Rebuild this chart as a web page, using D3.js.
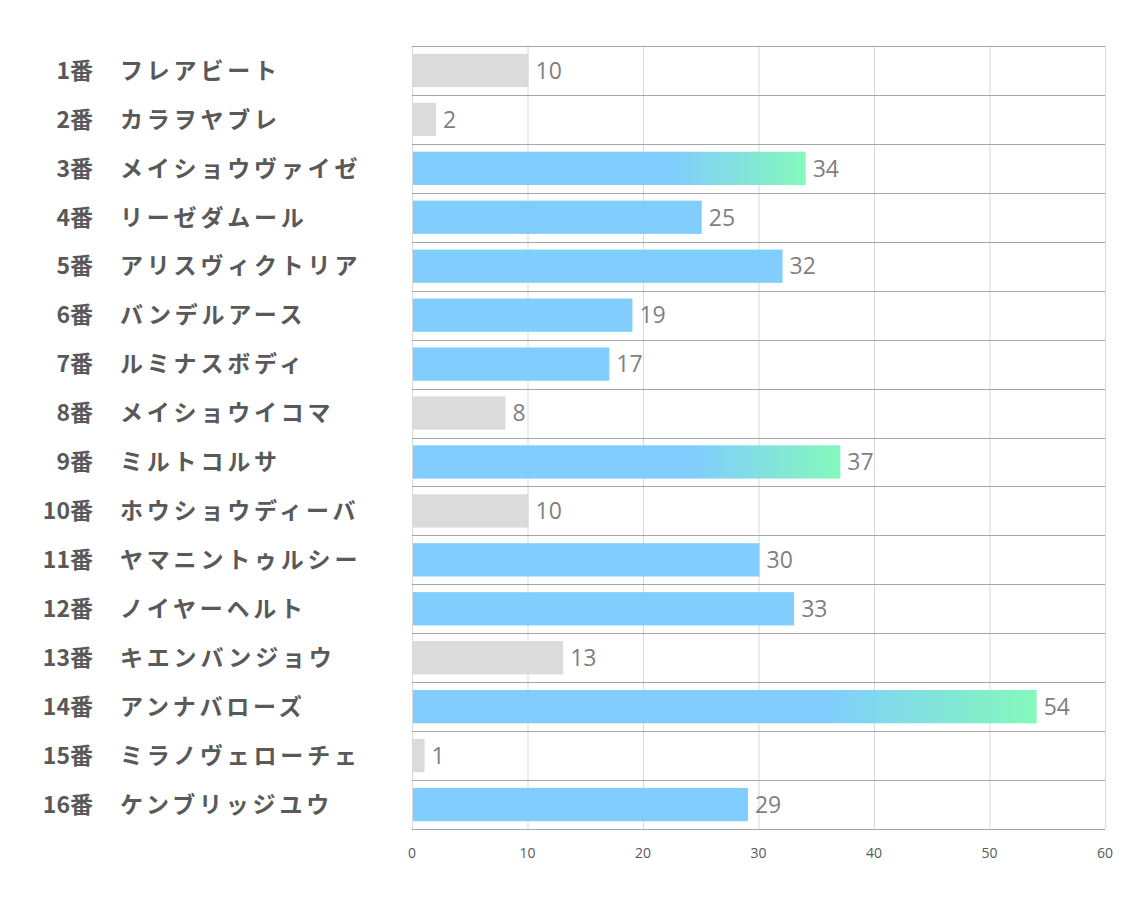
<!DOCTYPE html>
<html>
<head>
<meta charset="utf-8">
<script src="https://cdn.jsdelivr.net/npm/d3@7"></script>
<style>
  body { margin: 0; background: #fff; }
  svg { display: block; }
</style>
</head>
<body>
<div id="chart"></div>
<script>
// horse numbers, names and values, top to bottom
var numbers = ["1番","2番","3番","4番","5番","6番","7番","8番","9番","10番","11番","12番","13番","14番","15番","16番"];
var names = ["フレアビート","カラヲヤブレ","メイショウヴァイゼ","リーゼダムール","アリスヴィクトリア","バンデルアース","ルミナスボディ","メイショウイコマ","ミルトコルサ","ホウショウディーバ","ヤマニントゥルシー","ノイヤーヘルト","キエンバンジョウ","アンナバローズ","ミラノヴェローチェ","ケンブリッジユウ"];
var values = [10, 2, 34, 25, 32, 19, 17, 8, 37, 10, 30, 33, 13, 54, 1, 29];
// bar style group: g = gray, b = blue, t = blue->green gradient
var kinds = ["g","g","t","b","b","b","b","g","t","g","b","b","g","t","g","b"];
var ticks = [0, 10, 20, 30, 40, 50, 60];

var width = 1134, height = 907;
var plotLeft = 412, plotRight = 1105, plotTop = 46, plotBottom = 829;

var svg = d3.select("#chart").append("svg")
        .attr("width", width)
        .attr("height", height);

var defs = svg.append("defs");
var grad = defs.append("linearGradient")
        .attr("id", "topGrad")
        .attr("x1", "0").attr("x2", "1").attr("y1", "0").attr("y2", "0");
grad.append("stop").attr("offset", "0").attr("stop-color", "#7acafd");
grad.append("stop").attr("offset", "0.66").attr("stop-color", "#7acafd");
grad.append("stop").attr("offset", "1").attr("stop-color", "#7ef8b8");

var x = d3.scaleLinear()
        .domain([0, 60])
        .range([plotLeft, plotRight]);

var y = d3.scaleBand()
        .domain(d3.range(values.length))
        .range([plotTop, plotBottom])
        .paddingInner(0.32)
        .paddingOuter(0.16);

var step = y.step();

// vertical grid
svg.append("g").selectAll("line")
        .data(ticks)
        .enter().append("line")
        .attr("x1", function(d) { return x(d) + 0.5; })
        .attr("x2", function(d) { return x(d) + 0.5; })
        .attr("y1", plotTop)
        .attr("y2", plotBottom)
        .style("stroke", "#d9d9d9")
        .style("stroke-width", 1);

// row separators
svg.append("g").selectAll("line")
        .data(d3.range(values.length + 1))
        .enter().append("line")
        .attr("x1", plotLeft)
        .attr("x2", plotRight)
        .attr("y1", function(i) { return Math.round(plotTop + i * step) + 0.5; })
        .attr("y2", function(i) { return Math.round(plotTop + i * step) + 0.5; })
        .style("stroke", "#a6a6a6")
        .style("stroke-width", 1);

var fills = { g: "#d9d9d9", b: "#7acafd", t: "url(#topGrad)" };

svg.append("g").selectAll("rect")
        .data(values)
        .enter().append("rect")
        .attr("x", x(0) + 1)
        .attr("y", function(d, i) { return y(i); })
        .attr("width", function(d) { return x(d) - x(0); })
        .attr("height", y.bandwidth())
        .style("fill", function(d, i) { return fills[kinds[i]]; })
        .style("opacity", 0.95);

// value labels
svg.append("g").selectAll("text")
        .data(values)
        .enter().append("text")
        .attr("x", function(d) { return x(d) + 8; })
        .attr("y", function(d, i) { return y(i) + y.bandwidth() / 2; })
        .attr("dy", "0.36em")
        .style("font-family", "'Open Sans', 'Noto Sans', sans-serif")
        .style("font-size", "23px")
        .style("fill", "#7f7f7f")
        .text(function(d) { return d; });

// left labels: number right aligned, name left aligned
var labelFont = "'Noto Sans CJK JP', 'Noto Sans', sans-serif";
svg.append("g").selectAll("text")
        .data(numbers)
        .enter().append("text")
        .attr("x", 93)
        .attr("y", function(d, i) { return y(i) + y.bandwidth() / 2; })
        .attr("dy", "0.36em")
        .attr("text-anchor", "end")
        .style("font-family", labelFont)
        .style("font-weight", "bold")
        .style("font-size", "23px")
        .style("fill", "#595959")
        .text(function(d) { return d; });

svg.append("g").selectAll("text")
        .data(names)
        .enter().append("text")
        .attr("x", 120)
        .attr("y", function(d, i) { return y(i) + y.bandwidth() / 2; })
        .attr("dy", "0.36em")
        .style("font-family", labelFont)
        .style("font-weight", "bold")
        .style("font-size", "23px")
        .style("letter-spacing", "3.8px")
        .style("fill", "#595959")
        .text(function(d) { return d; });

// x axis tick labels
svg.append("g").selectAll("text")
        .data(ticks)
        .enter().append("text")
        .attr("x", function(d) { return x(d); })
        .attr("y", 853)
        .attr("dy", "0.36em")
        .attr("text-anchor", "middle")
        .style("font-family", "'Open Sans', 'Noto Sans', sans-serif")
        .style("font-size", "14px")
        .style("fill", "#595959")
        .text(function(d) { return d; });
</script>
</body>
</html>
